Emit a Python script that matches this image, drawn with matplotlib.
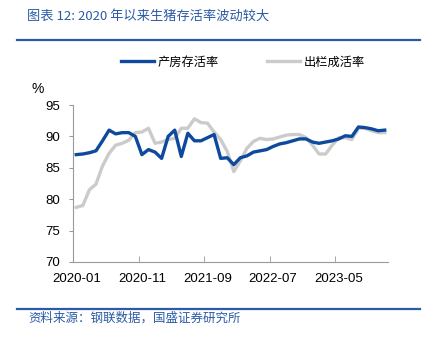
import numpy as np
import matplotlib
matplotlib.use('Agg')
import matplotlib.pyplot as plt
from matplotlib.lines import Line2D

plt.rcParams['font.family'] = ['Liberation Sans', 'Noto Sans CJK SC', 'DejaVu Sans']

# monthly data 2020-01 .. 2023-12
months = ['2020-01', '2020-11', '2021-09', '2022-07', '2023-05']
farrow = [87.1, 87.2, 87.4, 87.7, 89.3, 91.0, 90.4, 90.6, 90.6, 90.0,
          87.1, 87.9, 87.5, 86.5, 90.0, 91.0, 86.8, 90.5, 89.3, 89.3,
          89.8, 90.3, 86.5, 86.6, 85.5, 86.6, 86.9, 87.5, 87.7, 87.9,
          88.4, 88.8, 89.0, 89.3, 89.6, 89.6, 89.1, 88.9, 89.1, 89.3,
          89.6, 90.1, 90.0, 91.5, 91.4, 91.2, 90.9, 91.0]
finish = [78.7, 79.0, 81.5, 82.4, 85.3, 87.3, 88.6, 88.9, 89.4, 90.6,
          90.7, 91.3, 88.9, 89.1, 89.5, 89.7, 91.3, 91.3, 92.8, 92.2,
          92.1, 90.7, 89.5, 87.6, 84.4, 86.1, 88.1, 89.2, 89.7, 89.5,
          89.6, 89.9, 90.2, 90.3, 90.3, 89.8, 88.6, 87.2, 87.2, 88.6,
          89.8, 89.8, 89.5, 91.3, 91.3, 90.9, 90.6, 90.6]

blue = '#0D4A9E'
gray = '#CBCBCB'
head = '#2B5BA6'

fig = plt.figure(figsize=(4.31, 3.38), dpi=100)
ax = fig.add_axes([73/431, 1-262/338, 315/431, 157/338])

xs = np.arange(len(farrow))
ax.plot(xs, farrow, color=blue, lw=2.4, label='产房存活率', zorder=3)
ax.plot(xs, finish, color=gray, lw=2.4, label='出栏成活率', zorder=2)

ax.set_xlim(-0.5, len(farrow) - 0.5)
ax.set_ylim(70, 95)
ax.set_yticks(range(70, 96, 5))
ax.set_xticks(range(0, 41, 10))
ax.set_xticklabels(months)
ax.set_xticks(np.arange(9.5, 47, 10), minor=True)
ax.tick_params(axis='x', which='major', length=0, pad=8, labelsize=9.5)
ax.tick_params(axis='x', which='minor', direction='in', length=4, color='#999999')
ax.tick_params(axis='y', length=3, pad=6, labelsize=9.5, color='#999999')
for s in ['top', 'right']:
    ax.spines[s].set_visible(False)
for s in ['left', 'bottom']:
    ax.spines[s].set_color('#999999')

fig.text(38/431, 1-89/338, '%', fontsize=10, ha='center', va='center')

ax.legend(loc='center', bbox_to_anchor=(243/431, 1-62/338), bbox_transform=fig.transFigure,
          ncol=2, frameon=False, prop={'family': 'Noto Sans CJK SC', 'size': 8.8},
          handlelength=2.7, handletextpad=0.35, columnspacing=3.9)

fig.text(27/431, 1-16/338, '图表 12: 2020 年以来生猪存活率波动较大', color=head,
         fontsize=9.5, ha='left', va='center', family=['Noto Sans CJK SC'], style='italic')
fig.add_artist(Line2D([17/431, 420/431], [1-40/338, 1-40/338], color=head, lw=1.6))
fig.add_artist(Line2D([17/431, 420/431], [1-309/338, 1-309/338], color=head, lw=1.6))
fig.text(28/431, 1-318/338, '资料来源：钢联数据，国盛证券研究所', color=head,
         fontsize=9, ha='left', va='center', family=['Noto Sans CJK SC'], style='italic')

fig.savefig('out.png', dpi=100)
